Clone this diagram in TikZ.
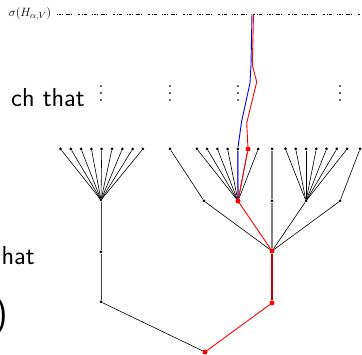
\documentclass[tikz,border=0pt]{standalone}
\begin{document}
\begin{tikzpicture}[x=1pt,y=-1pt,
  vtx/.style={circle,fill=black,inner sep=0pt,minimum size=3pt},
  rvtx/.style={circle,fill=red,inner sep=0pt,minimum size=5pt},
  edge/.style={black,line width=0.6pt},
  trunk/.style={black!75,line width=0.9pt},
  gedge/.style={gray,line width=1.2pt},
  redge/.style={red,line width=0.9pt},
  dredge/.style={red!75!black,line width=1.4pt},
  bedge/.style={blue,line width=0.9pt},
  cut/.style={font=\fontsize{26}{30}\selectfont\sffamily,inner sep=0pt,anchor=base east},
  vd/.style={scale=1.75,transform shape,inner sep=0pt}]
  \useasboundingbox (0,0) rectangle (362,355);
  \clip (0,0) rectangle (362,355);

  % cut-off slide text
  \node[cut] (such) at (85,107) {ch that};
  \node[cut] (hat) at (35,265) {hat};
  \node[cut,font=\fontsize{37}{40}\selectfont\sffamily] (paren) at (8,326) {)};

  % spectrum
  \node[font=\fontsize{13}{15}\selectfont,inner sep=0pt] (spec) at (30,14) {$\sigma(H_{\alpha,V})$};
  \coordinate (specend) at (362,14);
  \draw[line width=0.8pt,dash pattern=on 1pt off 1pt on 2pt off 1pt on 1pt off 3pt on 4pt off 1pt on 1pt off 6pt on 2pt off 2pt on 1pt off 1pt on 3pt off 5pt]
    ([xshift=6pt]spec.east) -- (specend);

  % vertices
  \node[rvtx] (root) at (205,352) {};
  \node[vtx] (l1) at (101,302) {};
  \node[vtx] (l2) at (101,252) {};
  \node[vtx] (l3) at (101,200) {};
  \node[rvtx] (r1) at (272,303) {};
  \node[rvtx] (r2) at (272,251) {};
  \node[vtx] (ra) at (204,201) {};
  \node[rvtx] (rb) at (238,201) {};
  \node[vtx] (rc) at (272,201) {};
  \node[vtx] (rd) at (306,201) {};
  \node[vtx] (re) at (340,201) {};

  % leaves
  \foreach \i in {0,...,8}
    \node[vtx] (lf\i) at ({60.5+10.3*\i},149) {};
  \foreach \i in {0,1,2,3,4,6}
    \node[vtx] (bf\i) at ({197+10.2*\i},149) {};
  \node[rvtx] (bf5) at (248,149) {};
  \foreach \i in {0,...,6}
    \node[vtx] (df\i) at ({285.5+10.25*\i},149) {};
  \node[vtx] (af) at (170,149) {};
  \node[vtx] (cf) at (272,149) {};
  \node[vtx] (ef) at (360,149) {};

  % vertical dots
  \node[vd] (vd1) at (101,88) {$\vdots$};
  \node[vd] (vd2) at (170,88) {$\vdots$};
  \node[vd] (vd3) at (238,88) {$\vdots$};
  \node[vd] (vd4) at (340,88) {$\vdots$};

  % tree
  \draw[edge] (root) -- (l1);
  \draw[trunk] (l1) -- (l2) -- (l3);
  \foreach \i in {0,...,8}
    \draw[edge] (l3) -- (lf\i);
  \draw[edge] (r2) -- (ra);
  \draw[edge] (r2) -- (rd);
  \draw[edge] (r2) -- (re);
  \draw[edge] (ra) -- (af);
  \draw[edge] (re) -- (ef);
  \foreach \i in {0,...,6}
    \draw[edge] (rb) -- (bf\i);
  \foreach \i in {0,...,6}
    \draw[edge] (rd) -- (df\i);
  \draw[gedge] (r2) -- (rc) -- (cf);

  % paths
  \draw[redge] (root) -- (r1);
  \draw[dredge] (r1) -- (r2);
  \draw[redge] (r2) -- (rb) -- (bf5);
  \coordinate (bp1) at (241.5,122);
  \coordinate (bp2) at (250,83);
  \coordinate (bp3) at (251,65);
  \coordinate (bp4) at (252,14);
  \draw[bedge] (rb) -- (bf4) -- (bp1) -- (bp2) -- (bp3) -- (bp4);
  \coordinate (rp1) at (246.7,123);
  \coordinate (rp2) at (256.7,82);
  \coordinate (rp3) at (252.3,65);
  \coordinate (rp4) at (253.5,14);
  \draw[redge] (bf5) -- (rp1) -- (rp2) -- (rp3) -- (rp4);
\end{tikzpicture}
\end{document}
